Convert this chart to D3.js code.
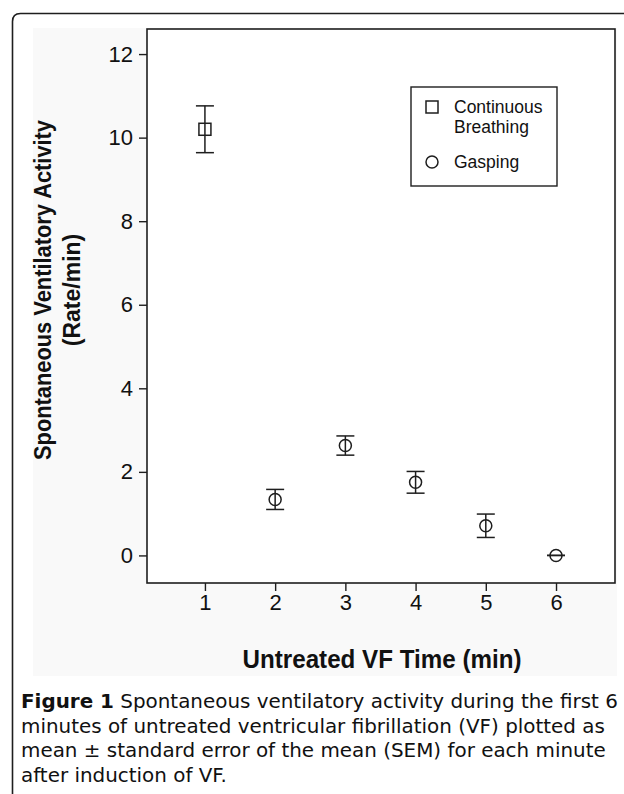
<!DOCTYPE html>
<html>
<head>
<meta charset="utf-8">
<script src="https://cdn.jsdelivr.net/npm/d3@7"></script>
<style>
  html, body { margin: 0; padding: 0; background: #ffffff; }
  svg { display: block; }
</style>
</head>
<body>
<svg id="chart" width="624" height="794"></svg>
<script>
// ---- data ----
const minutes = [1, 2, 3, 4, 5, 6];
const meanRate = [10.2, 1.34, 2.63, 1.75, 0.71, 0.0];
const semRate = [0.56, 0.24, 0.23, 0.26, 0.28, 0.0];
const markerKind = ["square", "circle", "circle", "circle", "circle", "circle"];
const xTickValues = [1, 2, 3, 4, 5, 6];
const yTickValues = [0, 2, 4, 6, 8, 10, 12];
const legendLabels = [["Continuous", "Breathing"], ["Gasping"]];
const legendKinds = ["square", "circle"];
const yTitleLines = ["Spontaneous Ventilatory Activity", "(Rate/min)"];
const xTitle = "Untreated VF Time (min)";
const captionLines = [
  [{t: "Figure 1", b: true}, {t: " Spontaneous ventilatory activity during the first 6", b: false}],
  [{t: "minutes of untreated ventricular fibrillation (VF) plotted as", b: false}],
  [{t: "mean \u00b1 standard error of the mean (SEM) for each minute", b: false}],
  [{t: "after induction of VF.", b: false}]
];

const data = minutes.map((m, i) => ({x: m, y: meanRate[i], e: semRate[i], k: markerKind[i]}));

const svg = d3.select("#chart");
const ink = "#1e1e1e";
const font = "'Liberation Sans', Arial, Helvetica, sans-serif";

// outer rounded frame (right side runs off page)
const r = 8;
svg.append("path")
  .attr("d", `M12.5,794 L12.5,${13.5 + r} Q12.5,13.5 ${12.5 + r},13.5 L624,13.5`)
  .attr("fill", "none").attr("stroke", ink).attr("stroke-width", 1.6);

// figure image background
svg.append("rect").attr("x", 33).attr("y", 28).attr("width", 584).attr("height", 648)
  .attr("fill", "#f9f9f9");

// plot area
const P = {left: 147, right: 615, top: 29, bottom: 583};
const x = d3.scaleLinear().domain([0.175, 6.84]).range([P.left, P.right]);
const y = d3.scaleLinear().domain([-0.66, 12.6]).range([P.bottom, P.top]);

svg.append("rect").attr("x", P.left).attr("y", P.top)
  .attr("width", P.right - P.left).attr("height", P.bottom - P.top)
  .attr("fill", "#ffffff");

// axes
const gy = svg.append("g").attr("transform", `translate(${P.left},0)`)
  .call(d3.axisLeft(y).tickValues(yTickValues).tickSize(8).tickPadding(6).tickFormat(d3.format("d")));
const gx = svg.append("g").attr("transform", `translate(0,${P.bottom})`)
  .call(d3.axisBottom(x).tickValues(xTickValues).tickSize(8).tickPadding(3).tickFormat(d3.format("d")));
[gx, gy].forEach(g => {
  g.attr("font-size", null).attr("font-family", null);
  g.select(".domain").remove();
  g.selectAll(".tick line").attr("stroke", ink).attr("stroke-width", 1.4);
  g.selectAll(".tick text").attr("fill", "#111").style("font-family", font).style("font-size", "22px");
});

// frame
svg.append("rect").attr("x", P.left).attr("y", P.top)
  .attr("width", P.right - P.left).attr("height", P.bottom - P.top)
  .attr("fill", "none").attr("stroke", ink).attr("stroke-width", 1.6);

// error bars
const capHalf = 9;
const eb = svg.append("g").attr("stroke", ink).attr("stroke-width", 1.5).attr("fill", "none");
data.forEach(d => {
  const g = eb.append("g");
  g.append("line").attr("x1", x(d.x)).attr("x2", x(d.x)).attr("y1", y(d.y + d.e)).attr("y2", y(d.y - d.e));
  g.append("line").attr("x1", x(d.x) - capHalf).attr("x2", x(d.x) + capHalf).attr("y1", y(d.y + d.e)).attr("y2", y(d.y + d.e));
  g.append("line").attr("x1", x(d.x) - capHalf).attr("x2", x(d.x) + capHalf).attr("y1", y(d.y - d.e)).attr("y2", y(d.y - d.e));
});

// markers
function drawMarker(g, kind, cx, cy) {
  if (kind === "square") {
    g.append("rect").attr("x", cx - 6).attr("y", cy - 6).attr("width", 12).attr("height", 12)
      .attr("fill", "none").attr("stroke", ink).attr("stroke-width", 1.5);
  } else {
    g.append("circle").attr("cx", cx).attr("cy", cy).attr("r", 6)
      .attr("fill", "none").attr("stroke", ink).attr("stroke-width", 1.5);
  }
}
const mg = svg.append("g");
data.forEach(d => drawMarker(mg, d.k, x(d.x), y(d.y)));

// legend
const lg = svg.append("g");
lg.append("rect").attr("x", 411).attr("y", 87).attr("width", 146).attr("height", 99)
  .attr("fill", "#ffffff").attr("stroke", ink).attr("stroke-width", 1.4);
const legendRows = [{mk: 107, base: [113, 133]}, {mk: 162, base: [168]}];
legendKinds.forEach((k, i) => {
  drawMarker(lg, k, 432, legendRows[i].mk);
  legendLabels[i].forEach((t, j) => {
    lg.append("text").attr("x", 454).attr("y", legendRows[i].base[j])
      .attr("fill", "#111").style("font-family", font).style("font-size", "17.5px").text(t);
  });
});

// axis titles
const yt = svg.append("g").attr("transform", "translate(0,290) rotate(-90)");
yTitleLines.forEach((t, i) => {
  yt.append("text").attr("x", 0).attr("y", 51 + i * 29).attr("text-anchor", "middle")
    .attr("fill", "#111").style("font-family", font).style("font-weight", "bold").style("font-size", "23px")
    .attr("textLength", i === 0 ? 340 : null).attr("lengthAdjust", "spacingAndGlyphs")
    .text(t);
});
svg.append("text").attr("x", 382).attr("y", 668).attr("text-anchor", "middle")
  .attr("fill", "#111").style("font-family", font).style("font-weight", "bold").style("font-size", "26px")
  .attr("textLength", 279).attr("lengthAdjust", "spacingAndGlyphs")
  .text(xTitle);

// caption
const capFont = "'DejaVu Sans', Verdana, sans-serif";
const capBase = [708, 733, 757, 782];
const capX = 21;
const capG = svg.append("g");
const capTexts = captionLines.map((line, i) => {
  const t = capG.append("text").attr("x", capX).attr("y", capBase[i]).attr("fill", "#111")
    .style("font-family", capFont).style("font-size", "20px");
  line.forEach(s => t.append("tspan").style("font-weight", s.b ? "bold" : "normal").text(s.t));
  return t;
});
// size the caption font so the first line spans the same width as in the reference
const w0 = capTexts[0].node().getComputedTextLength();
const fs = Math.max(17, Math.min(21, 20 * (618 - capX) / w0));
capTexts.forEach(t => t.style("font-size", fs.toFixed(2) + "px"));
</script>
</body>
</html>
